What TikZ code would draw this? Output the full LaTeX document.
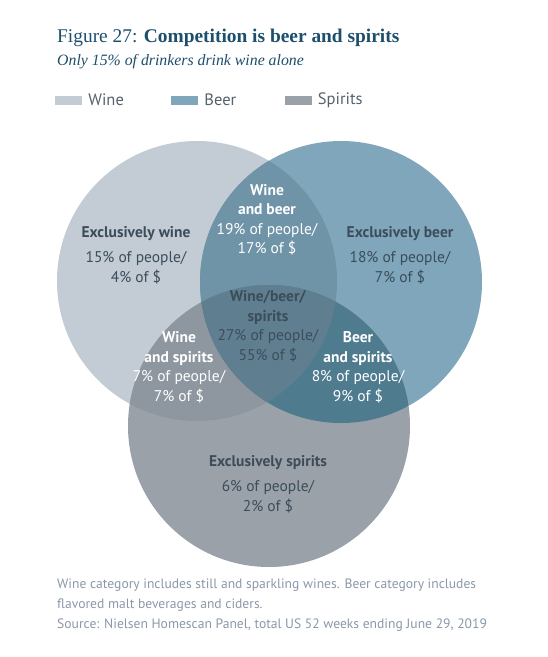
\documentclass[tikz,border=0pt]{standalone}
\usepackage{fontspec}
\setmainfont{PT Sans}
\newfontfamily\titlefont{Liberation Serif}
\usetikzlibrary{positioning}

\definecolor{wineC}{HTML}{C3CBD4}
\definecolor{beerC}{HTML}{7FA6BA}
\definecolor{spiritsC}{HTML}{9BA1A8}
\definecolor{wbC}{HTML}{6F93A7}
\definecolor{wsC}{HTML}{8E97A0}
\definecolor{bsC}{HTML}{4F7B8F}
\definecolor{wbsC}{HTML}{5F7F90}
\definecolor{titleC}{HTML}{1D4E6B}
\definecolor{darkC}{HTML}{3B4D5A}
\definecolor{legendC}{HTML}{56616B}
\definecolor{noteC}{HTML}{8A98A8}

\def\winecirc{(197,281) circle[radius=140]}
\def\beercirc{(341,282) circle[radius=141]}
\def\spiritscirc{(269,426) circle[radius=141]}

\begin{document}
\begin{tikzpicture}[
    x=1pt, y=-1pt,
    region/.style = {align=center, font=\fontsize{15.5}{19.5}\selectfont, inner sep=0pt},
    solo/.style   = {region, text=darkC},
    pair/.style   = {region, text=white},
    swatch/.style = {minimum width=27pt, minimum height=9pt, inner sep=0pt},
    legtext/.style= {font=\fontsize{16.5}{18}\selectfont, text=legendC, anchor=west, inner sep=0pt},
    note/.style   = {font=\fontsize{13.6}{20}\selectfont, text=noteC, anchor=base west, inner sep=0pt}
]
\useasboundingbox (0,0) rectangle (548,657);

% ========= title =========
\node[anchor=base west, inner sep=0pt, text=titleC] (title) at (57,42)
    {\titlefont\fontsize{19.4}{24}\selectfont Figure 27: \textbf{Competition is beer and spirits}};
\node[anchor=base west, inner sep=0pt, text=titleC] (subtitle) at (57,65)
    {\titlefont\itshape\fontsize{15.8}{18}\selectfont Only 15\% of drinkers drink wine alone};

% ========= legend =========
\node[swatch, fill=wineC]    (wsw) at (68.5,100) {};
\node[legtext, right=6pt of wsw]    (wlab) {Wine};
\node[swatch, fill=beerC]    (bsw) at (184.5,100) {};
\node[legtext, right=6pt of bsw]    (blab) {Beer};
\node[swatch, fill=spiritsC] (ssw) at (298,100) {};
\node[legtext, right=6pt of ssw]    (slab) {Spirits};

% ========= circles =========
\fill[wineC]    \winecirc;
\fill[beerC]    \beercirc;
\fill[spiritsC] \spiritscirc;
\begin{scope}
  \clip \winecirc;
  \fill[wbC] \beercirc;
  \fill[wsC] \spiritscirc;
\end{scope}
\begin{scope}
  \clip \beercirc;
  \fill[bsC] \spiritscirc;
\end{scope}
\begin{scope}
  \clip \winecirc;
  \clip \beercirc;
  \fill[wbsC] \spiritscirc;
\end{scope}

% ========= region labels =========
\node[solo] (wonly) at (136,255)
    {\textbf{Exclusively wine}\\[6pt]15\% of people/\\4\% of \$};
\node[solo] (bonly) at (400,255)
    {\textbf{Exclusively beer}\\[6pt]18\% of people/\\7\% of \$};
\node[solo] (sonly) at (268,484)
    {\textbf{Exclusively spirits}\\[6pt]6\% of people/\\2\% of \$};
\node[pair] (wb) at (267,220)
    {\textbf{Wine}\\\textbf{and beer}\\19\% of people/\\17\% of \$};
\node[pair] (ws) at (179,367.5)
    {\textbf{Wine}\\\textbf{and spirits}\\7\% of people/\\7\% of \$};
\node[pair] (bs) at (358,367.5)
    {\textbf{Beer}\\\textbf{and spirits}\\8\% of people/\\9\% of \$};
\node[solo] (wbs) at (268,326)
    {\textbf{Wine/beer/}\\\textbf{spirits}\\27\% of people/\\55\% of \$};

% ========= footnote =========
\node[note] (note1) at (57,588)
    {Wine category includes still and sparkling wines. Beer category includes};
\node[note] (note2) at (57,608) {flavored malt beverages and ciders.};
\node[note] (note3) at (57,628)
    {Source: Nielsen Homescan Panel, total US 52 weeks ending June 29, 2019};

\end{tikzpicture}
\end{document}
